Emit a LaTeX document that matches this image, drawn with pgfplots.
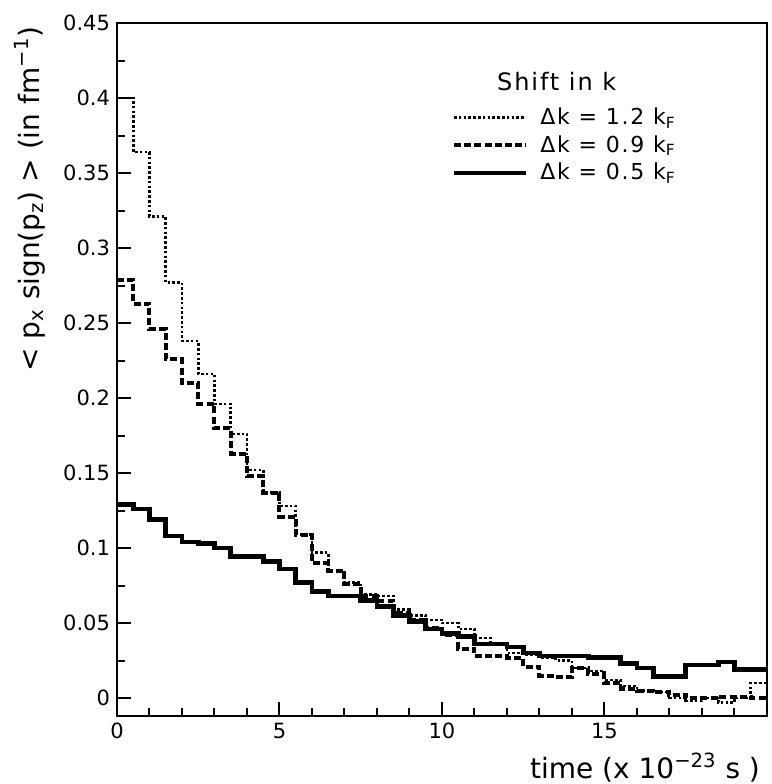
\documentclass[border=0pt]{standalone}
\usepackage{fontspec}
\setmainfont{DejaVu Sans}
\usepackage{pgfplots}
\pgfplotsset{compat=1.18}
\pgfplotstableread{
x     a      b      c
0.0   0.400  0.279  0.129
0.5   0.364  0.263  0.126
1.0   0.321  0.246  0.119
1.5   0.277  0.226  0.108
2.0   0.238  0.210  0.104
2.5   0.216  0.196  0.103
3.0   0.196  0.180  0.100
3.5   0.176  0.163  0.0945
4.0   0.152  0.148  0.0945
4.5   0.137  0.137  0.091
5.0   0.128  0.121  0.086
5.5   0.109  0.109  0.077
6.0   0.097  0.090  0.071
6.5   0.085  0.085  0.068
7.0   0.077  0.076  0.068
7.5   0.069  0.068  0.065
8.0   0.068  0.065  0.061
8.5   0.059  0.057  0.055
9.0   0.055  0.052  0.051
9.5   0.052  0.047  0.046
10.0  0.050  0.042  0.043
10.5  0.046  0.033  0.041
11.0  0.040  0.028  0.036
11.5  0.036  0.028  0.036
12.0  0.030  0.027  0.034
12.5  0.029  0.021  0.030
13.0  0.027  0.015  0.028
13.5  0.025  0.014  0.028
14.0  0.020  0.020  0.028
14.5  0.018  0.016  0.027
15.0  0.012  0.010  0.027
15.5  0.008  0.006  0.023
16.0  0.005  0.005  0.020
16.5  0.004  0.004  0.0145
17.0  0.000  0.002  0.0145
17.5  -0.002 0.000  0.022
18.0  0.000  0.000  0.022
18.5  -0.003 0.001  0.024
19.0  0.000  0.001  0.019
19.5  0.010  0.000  0.019
20.0  0.010  0.000  0.019
}\datatable
\begin{document}
\begin{tikzpicture}
\begin{axis}[
  scale only axis, width=325pt, height=346.5pt,
  xmin=0, xmax=20, ymin=-0.012, ymax=0.45,
  axis line style={line width=1.4pt},
  xtick={0,5,10,15},
  minor xtick={1,2,3,4,6,7,8,9,11,12,13,14,16,17,18,19},
  ytick={0,0.05,0.1,0.15,0.2,0.25,0.3,0.35,0.4,0.45},
  minor ytick={0.025,0.075,0.125,0.175,0.225,0.275,0.325,0.375,0.425},
  yticklabels={0,0.05,0.1,0.15,0.2,0.25,0.3,0.35,0.4,0.45},
  tick pos=left, tick align=inside,
  major tick length=7pt, minor tick length=4pt,
  every tick/.style={black, line width=1pt},
  tick label style={font=\fontsize{10.5}{12}\selectfont},
  /pgf/number format/assume math mode=true,
  xlabel={time (x 10\textsuperscript{−23} s )},
  xlabel style={at={(axis description cs:1,0)}, anchor=north east, yshift=-15pt, font=\fontsize{14}{16}\selectfont},
  ylabel={< p\textsubscript{x} sign(p\textsubscript{z}) > (in fm\textsuperscript{−1})},
  ylabel style={at={(axis description cs:-0.134,1.005)}, anchor=east, font=\fontsize{14}{16}\selectfont},
  legend style={draw=none, fill=none, at={(axis description cs:0.505,0.89)}, anchor=north west,
    font=\addfontfeature{LetterSpace=8}\fontsize{11}{13}\selectfont, row sep=0pt,
    /tikz/every odd column/.append style={column sep=4pt}},
  legend cell align=left,
  legend image code/.code={\draw[#1] (0pt,0pt) -- (36pt,0pt);},
]
\addplot[const plot, black, line width=1.3pt, dash pattern=on 1.3pt off 1.1pt] table[x=x,y=a] {\datatable};
\addlegendentry{Δk = 1.2 k\textsubscript{F}}
\addplot[const plot, black, line width=2pt, dash pattern=on 3.5pt off 1.6pt] table[x=x,y=b] {\datatable};
\addlegendentry{Δk = 0.9 k\textsubscript{F}}
\addplot[const plot, black, line width=2.4pt] table[x=x,y=c] {\datatable};
\addlegendentry{Δk = 0.5 k\textsubscript{F}}
\node[anchor=west, font=\addfontfeature{LetterSpace=8}\fontsize{12}{14}\selectfont] at (axis description cs:0.574,0.915) {Shift in k};
\end{axis}
\pgfresetboundingbox
\path[use as bounding box] ([xshift=-58.5pt,yshift=-34pt]current axis.south west) rectangle ([xshift=2.5pt,yshift=11.5pt]current axis.north east);
\end{tikzpicture}
\end{document}
